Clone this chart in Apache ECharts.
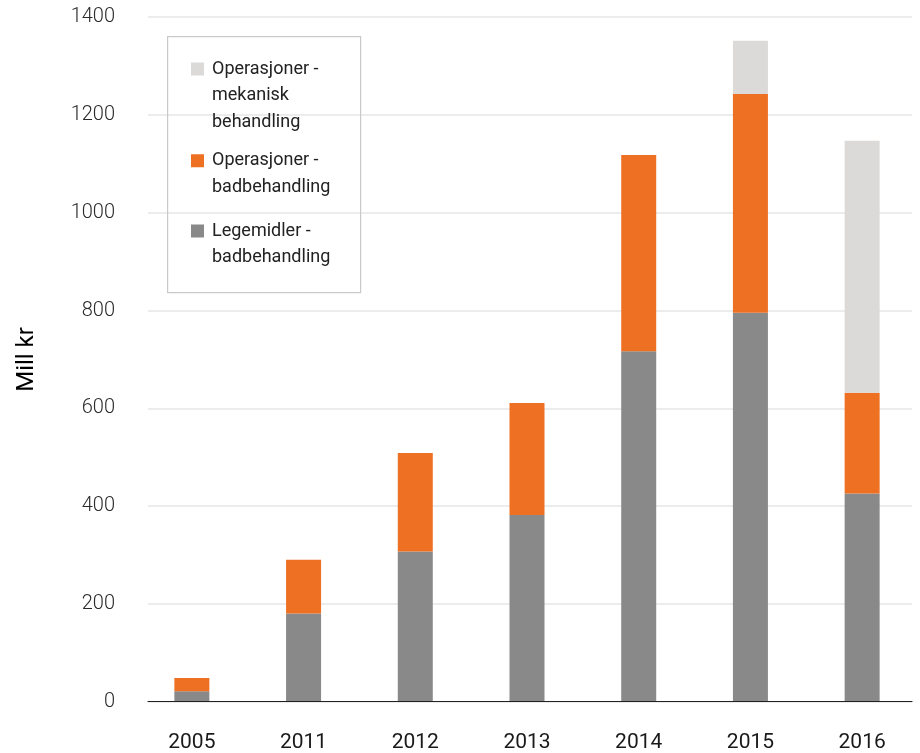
<!DOCTYPE html>
<html>
<head>
<meta charset="utf-8">
<script src="https://cdn.jsdelivr.net/npm/echarts@6/dist/echarts.min.js"></script>
<style>
html,body{margin:0;padding:0;background:#fff;}
#chart{width:920px;height:753px;}
</style>
</head>
<body>
<div id="chart"></div>
<script>
var categories = ['2005', '2011', '2012', '2013', '2014', '2015', '2016'];
var legemidlerBad = [20, 179, 306, 381, 716, 795, 425];
var operasjonerBad = [27, 110, 202, 229, 402, 448, 206];
var operasjonerMek = [0, 0, 0, 0, 0, 109, 516];
var seriesNames = ['Legemidler - badbehandling', 'Operasjoner - badbehandling', 'Operasjoner - mekanisk behandling'];
var legendLabels = {
  'Operasjoner - mekanisk behandling': 'Operasjoner -\nmekanisk\nbehandling',
  'Operasjoner - badbehandling': 'Operasjoner -\nbadbehandling',
  'Legemidler - badbehandling': 'Legemidler -\nbadbehandling'
};
var yTicks = { min: 0, max: 1400, interval: 200 };

var colors = ['#898989', '#EE7023', '#DBDAD9'];
var axisFont = "'Liberation Sans Narrow', 'Roboto', sans-serif";

function iconPath(h) {
  var c = 13.25;
  return 'path://M0,0L0.01,0M16,' + h + 'L15.99,' + h +
    'M0,' + (c - 6.5) + 'L13,' + (c - 6.5) + 'L13,' + (c + 6.5) + 'L0,' + (c + 6.5) + 'Z';
}
function makeLegend(name, top, lines) {
  var h = lines * 26.5;
  return {
    data: [{ name: name, icon: iconPath(h) }],
    left: 191, top: top, padding: 0,
    orient: 'vertical',
    itemWidth: 16, itemHeight: h,
    selectedMode: false,
    formatter: function (n) { return legendLabels[n]; },
    textStyle: { fontFamily: 'Roboto', fontSize: 18, color: '#222', lineHeight: 26.5 }
  };
}

var chart = echarts.init(document.getElementById('chart'), null, { renderer: 'canvas' });
chart.setOption({
  backgroundColor: '#fff',
  animation: false,
  color: colors,
  grid: [
    { left: 136, right: 2, top: 17.2, bottom: 51.3 },
    { left: 148, right: 8, top: 17.2, bottom: 51.3 }
  ],
  legend: [
    makeLegend(seriesNames[2], 55.75, 3),
    makeLegend(seriesNames[1], 147.5, 2),
    makeLegend(seriesNames[0], 217.75, 2)
  ],
  graphic: [{
    type: 'rect', left: 167, top: 36, z: 1, silent: true,
    shape: { width: 193, height: 256 },
    style: { fill: 'rgba(0,0,0,0)', stroke: '#c9c9c9', lineWidth: 1.2 }
  }],
  xAxis: [{
    type: 'category', gridIndex: 0, data: categories,
    axisLine: { show: false }, axisTick: { show: false },
    axisLabel: { fontFamily: axisFont, fontSize: 21, color: '#1a1a1a', margin: 31 }
  }, {
    type: 'value', gridIndex: 1, min: 0, max: 1,
    axisLine: { show: true, onZero: false, lineStyle: { color: '#222', width: 1.2 } },
    axisTick: { show: false }, axisLabel: { show: false }, splitLine: { show: false }
  }],
  yAxis: [{
    type: 'value', gridIndex: 0, min: yTicks.min, max: yTicks.max, interval: yTicks.interval,
    axisLine: { show: false }, axisTick: { show: false }, axisLabel: { show: false }, splitLine: { show: false }
  }, {
    type: 'value', gridIndex: 1, min: yTicks.min, max: yTicks.max, interval: yTicks.interval,
    name: 'Mill kr', nameLocation: 'middle', nameGap: 109, nameRotate: 90,
    nameTextStyle: { fontFamily: axisFont, fontSize: 24, fontWeight: 'normal', color: '#000' },
    axisLine: { show: false }, axisTick: { show: false },
    axisLabel: {
      fontFamily: axisFont, fontSize: 20, fontWeight: 300, color: '#2a2a2a', margin: 33,
      formatter: function (v) { return String(v); }
    },
    splitLine: { show: true, lineStyle: { color: '#e6e6e6', width: 1.5 } }
  }],
  series: [
    { name: seriesNames[0], type: 'bar', stack: 'total', barWidth: 35, data: legemidlerBad, xAxisIndex: 0, yAxisIndex: 0, z: 3 },
    { name: seriesNames[1], type: 'bar', stack: 'total', barWidth: 35, data: operasjonerBad, xAxisIndex: 0, yAxisIndex: 0, z: 3 },
    { name: seriesNames[2], type: 'bar', stack: 'total', barWidth: 35, data: operasjonerMek, xAxisIndex: 0, yAxisIndex: 0, z: 3 }
  ]
});
</script>
</body>
</html>
